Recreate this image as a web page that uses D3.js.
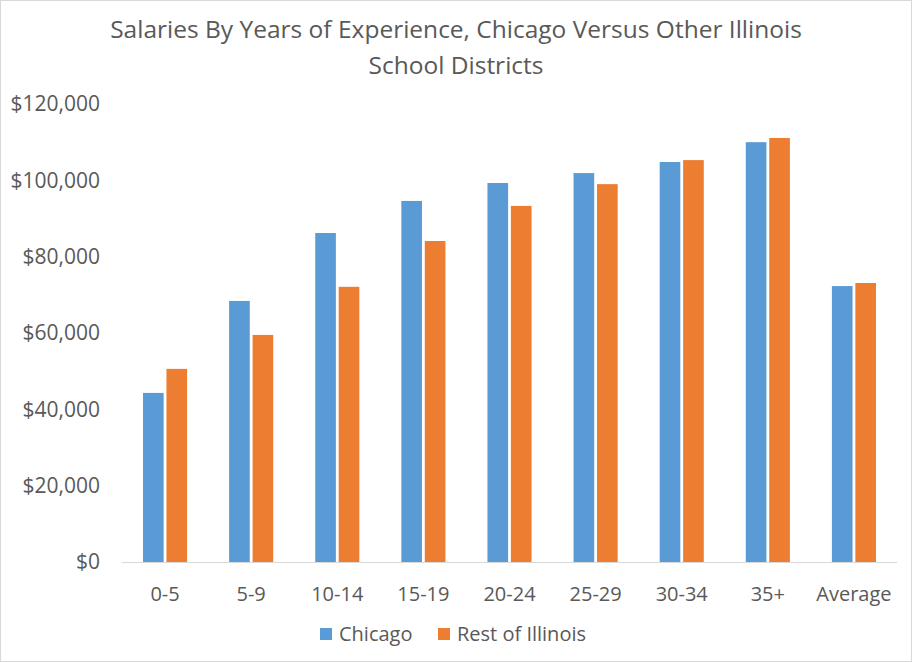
<!DOCTYPE html>
<html>
<head>
<meta charset="utf-8">
<script src="https://cdn.jsdelivr.net/npm/d3@7"></script>
<style>
  body { margin: 0; background: #fff; }
  text { font-family: "Open Sans", "Liberation Sans", sans-serif; fill: #595959; }
</style>
</head>
<body>
<svg id="chart"></svg>
<script>
// Data
var categories = ["0-5", "5-9", "10-14", "15-19", "20-24", "25-29", "30-34", "35+", "Average"];
var chicago = [44300, 68400, 86200, 94600, 99300, 101900, 104800, 110000, 72300];
var restOfIllinois = [50600, 59500, 72100, 84100, 93300, 99000, 105300, 111100, 73100];
var seriesNames = ["Chicago", "Rest of Illinois"];
var yTicks = [0, 20000, 40000, 60000, 80000, 100000, 120000];

var colors = ["#5b9bd5", "#ed7d31"];

// SVG size params
var width = 912;
var height = 662;
var margin = {top: 104, right: 15, bottom: 100, left: 122};

var svg = d3.select("#chart")
    .attr("width", width)
    .attr("height", height);

// Chart border
svg.append("rect")
    .attr("x", 0.5).attr("y", 0.5)
    .attr("width", width - 1).attr("height", height - 1)
    .attr("fill", "#fff")
    .attr("stroke", "#d9d9d9");

// Title
svg.append("text")
    .attr("x", width / 2)
    .attr("text-anchor", "middle")
    .attr("font-size", 24.5)
    .selectAll("tspan")
    .data(["Salaries By Years of Experience, Chicago Versus Other Illinois", "School Districts"])
  .enter().append("tspan")
    .attr("x", width / 2)
    .attr("y", function(d, i) { return 38 + i * 36; })
    .text(function(d) { return d; });

// Scales
var x = d3.scaleBand()
    .domain(categories)
    .range([margin.left, width - margin.right]);

var x1 = d3.scaleBand()
    .domain(seriesNames)
    .range([21, x.bandwidth() - 21])
    .paddingInner(0.12);

var y = d3.scaleLinear()
    .domain([0, 120000])
    .range([height - margin.bottom, margin.top]);

// Y axis labels
var fmt = d3.format(",");
svg.append("g")
    .selectAll("text")
    .data(yTicks)
  .enter().append("text")
    .attr("x", 100)
    .attr("y", function(d) { return y(d); })
    .attr("dy", "0.35em")
    .attr("text-anchor", "end")
    .attr("font-size", 21)
    .text(function(d) { return "$" + fmt(d); });

// Bars
var rows = categories.map(function(c, i) {
  return {cat: c, values: [chicago[i], restOfIllinois[i]]};
});

var groups = svg.append("g")
    .selectAll(".group")
    .data(rows)
  .enter().append("g")
    .attr("class", "group")
    .attr("transform", function(d) { return "translate(" + x(d.cat) + ",0)"; });

groups.selectAll("rect")
    .data(function(d) { return d.values.map(function(v, i) { return {name: seriesNames[i], value: v, i: i}; }); })
  .enter().append("rect")
    .attr("x", function(d) { return x1(d.name); })
    .attr("y", function(d) { return y(d.value); })
    .attr("width", x1.bandwidth())
    .attr("height", function(d) { return y(0) - y(d.value); })
    .attr("fill", function(d) { return colors[d.i]; });

// Baseline
svg.append("line")
    .attr("x1", margin.left).attr("x2", width - margin.right)
    .attr("y1", y(0) + 0.5).attr("y2", y(0) + 0.5)
    .attr("stroke", "#d9d9d9");

// X axis labels
svg.append("g")
    .selectAll("text")
    .data(categories)
  .enter().append("text")
    .attr("x", function(d) { return x(d) + x.bandwidth() / 2; })
    .attr("y", 601)
    .attr("text-anchor", "middle")
    .attr("font-size", 20)
    .text(function(d) { return d; });

// Legend
var legendX = [320, 438];
var legend = svg.append("g")
    .selectAll("g")
    .data(seriesNames)
  .enter().append("g")
    .attr("transform", function(d, i) { return "translate(" + legendX[i] + ",628)"; });

legend.append("rect")
    .attr("width", 12).attr("height", 12)
    .attr("fill", function(d, i) { return colors[i]; });

legend.append("text")
    .attr("x", 19)
    .attr("y", 6)
    .attr("dy", "0.35em")
    .attr("font-size", 20)
    .text(function(d) { return d; });
</script>
</body>
</html>
